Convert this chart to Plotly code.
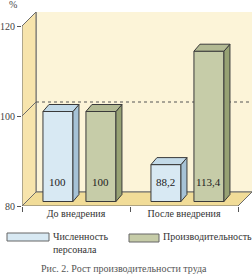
import plotly.graph_objects as go

# ---- data ----
categories = ["До внедрения", "После внедрения"]
series_names = ["Численность<br>персонала", "Производительность"]
staff = [100, 88.2]
productivity = [100, 113.4]
value_labels_staff = ["100", "88,2"]
value_labels_prod = ["100", "113,4"]
y_ticks = [80, 100, 120]
caption = "Рис. 2. Рост производительности труда"
unit_label = "%"

# ---- style / geometry ----
W, H = 252, 276
ML, MR, MT, MB = 22, 0, 12, 70
PW, PH = W - ML - MR, H - MT - MB
PX_PER_CAT = 108.0
PX_PER_UNIT = 4.5
YMIN = 80
x_range = [-0.5, -0.5 + PW / PX_PER_CAT]
y_range = [YMIN, YMIN + PH / PX_PER_UNIT]
BAR_SHIFT = 1.0  # bars sit a bit deeper than the front axis
y2_range = [y_range[0] - BAR_SHIFT, y_range[1] - BAR_SHIFT]

wall_dx = 14 / PX_PER_CAT
wall_dy = 14 / PX_PER_UNIT
bar_dx = 6 / PX_PER_CAT
bar_dy = 7 / PX_PER_UNIT
bar_w = 30 / PX_PER_CAT
offsets = [-0.167 - bar_w / 2, 0.231 - bar_w / 2]

SERIF = "Liberation Serif, Times New Roman, serif"
C_BACK = "#FCF4D8"
C_SIDE = "#F7E4AC"
C_FLOOR = "#F1DC98"
C_EDGE = "#6b6b6b"
colors_front = ["#D8E9F3", "#C6CCA8"]
colors_top = ["#C3DAE8", "#B2B993"]
colors_side = ["#A6C2D6", "#97A274"]
OUT = "#3a3a3a"

fig = go.Figure()

series = [staff, productivity]
labels = [value_labels_staff, value_labels_prod]
for i, vals in enumerate(series):
    fig.add_trace(go.Bar(
        x=categories, y=[v - YMIN for v in vals], base=YMIN,
        offset=offsets[i], width=bar_w,
        marker=dict(color=colors_front[i], line=dict(color=OUT, width=1)),
        yaxis="y2", showlegend=False, hoverinfo="skip",
    ))

shapes = []
# back wall
shapes.append(dict(type="rect", xref="x", yref="y", layer="below",
                   x0=-0.5 + wall_dx, x1=x_range[1] + 0.1, y0=YMIN + wall_dy, y1=y_range[1] + 1,
                   fillcolor=C_BACK, line=dict(color=C_EDGE, width=1)))
# side wall
shapes.append(dict(type="path", xref="x", yref="y", layer="below",
                   path=f"M {-0.5} {YMIN} L {-0.5} {y_ticks[-1]} L {-0.5 + wall_dx} {y_ticks[-1] + wall_dy} "
                        f"L {-0.5 + wall_dx} {YMIN + wall_dy} Z",
                   fillcolor=C_SIDE, line=dict(color=C_EDGE, width=1)))
# floor
shapes.append(dict(type="path", xref="x", yref="y", layer="below",
                   path=f"M {-0.5} {YMIN} L {1.5} {YMIN} L {1.5 + wall_dx} {YMIN + wall_dy} "
                        f"L {-0.5 + wall_dx} {YMIN + wall_dy} Z",
                   fillcolor=C_FLOOR, line=dict(color=C_EDGE, width=1)))
# gridline at 100: diagonal on side wall + dotted on back wall
g = y_ticks[1]
shapes.append(dict(type="line", xref="x", yref="y", layer="below",
                   x0=-0.5, y0=g, x1=-0.5 + wall_dx, y1=g + wall_dy,
                   line=dict(color=C_EDGE, width=1)))
shapes.append(dict(type="line", xref="x", yref="y", layer="below",
                   x0=-0.5 + wall_dx, y0=g + wall_dy, x1=x_range[1] + 0.1, y1=g + wall_dy,
                   line=dict(color="#555555", width=1, dash="dot")))

# 3D faces of bars
for i, vals in enumerate(series):
    for j, v in enumerate(vals):
        L = j + offsets[i]
        R = L + bar_w
        shapes.append(dict(type="path", xref="x", yref="y2", layer="above",
                           path=f"M {R} {YMIN} L {R} {v} L {R + bar_dx} {v + bar_dy} L {R + bar_dx} {YMIN + bar_dy} Z",
                           fillcolor=colors_side[i], line=dict(color=OUT, width=1)))
        shapes.append(dict(type="path", xref="x", yref="y2", layer="above",
                           path=f"M {L} {v} L {L + bar_dx} {v + bar_dy} L {R + bar_dx} {v + bar_dy} L {R} {v} Z",
                           fillcolor=colors_top[i], line=dict(color=OUT, width=1)))


def px_x(px):
    return (px - ML) / PW


def px_y(py):
    return (H - MB - py) / PH


# legend swatches
shapes.append(dict(type="rect", xref="paper", yref="paper",
                   x0=px_x(7), x1=px_x(49), y0=px_y(241), y1=px_y(233),
                   fillcolor=colors_front[0], line=dict(color="#666666", width=1)))
shapes.append(dict(type="rect", xref="paper", yref="paper",
                   x0=px_x(129), x1=px_x(159), y0=px_y(242), y1=px_y(234),
                   fillcolor=colors_front[1], line=dict(color="#666666", width=1)))

annotations = []
for i, vals in enumerate(series):
    for j, v in enumerate(vals):
        annotations.append(dict(x=j + offsets[i] + bar_w / 2, y=YMIN + (206 - 182) / PX_PER_UNIT,
                                xref="x", yref="y", text=labels[i][j], showarrow=False,
                                xanchor="center", yanchor="middle",
                                font=dict(family=SERIF, size=11, color="#222222")))

annotations.append(dict(x=px_x(13), y=px_y(5), xref="paper", yref="paper", text=unit_label,
                        showarrow=False, xanchor="center", yanchor="middle",
                        font=dict(family=SERIF, size=10, color="#444444")))
annotations.append(dict(x=px_x(51), y=px_y(243), xref="paper", yref="paper", text=series_names[0],
                        showarrow=False, xanchor="left", yanchor="middle", align="left",
                        font=dict(family=SERIF, size=10, color="#333333")))
annotations.append(dict(x=px_x(161), y=px_y(237), xref="paper", yref="paper", text=series_names[1],
                        showarrow=False, xanchor="left", yanchor="middle", align="left",
                        font=dict(family=SERIF, size=10, color="#333333")))
annotations.append(dict(x=px_x(124), y=px_y(268), xref="paper", yref="paper", text=caption,
                        showarrow=False, xanchor="center", yanchor="middle",
                        font=dict(family=SERIF, size=10, color="#555555")))

fig.update_layout(
    width=W, height=H, autosize=False,
    margin=dict(l=ML, r=MR, t=MT, b=MB, pad=0),
    paper_bgcolor="white", plot_bgcolor="white",
    barmode="overlay", showlegend=False,
    xaxis=dict(type="category", categoryarray=categories, categoryorder="array",
               range=x_range, tickson="boundaries", ticks="outside", ticklen=5,
               tickcolor="#555555", showgrid=False, showline=False, zeroline=False,
               tickfont=dict(family=SERIF, size=10, color="#333333")),
    yaxis=dict(range=y_range, tickvals=y_ticks, ticks="outside", ticklen=4,
               tickcolor="#555555", showgrid=False, showline=False, zeroline=False,
               tickfont=dict(family=SERIF, size=10, color="#444444")),
    yaxis2=dict(range=y2_range, overlaying="y", visible=False),
    shapes=shapes, annotations=annotations,
)

fig.write_html("out.html")
